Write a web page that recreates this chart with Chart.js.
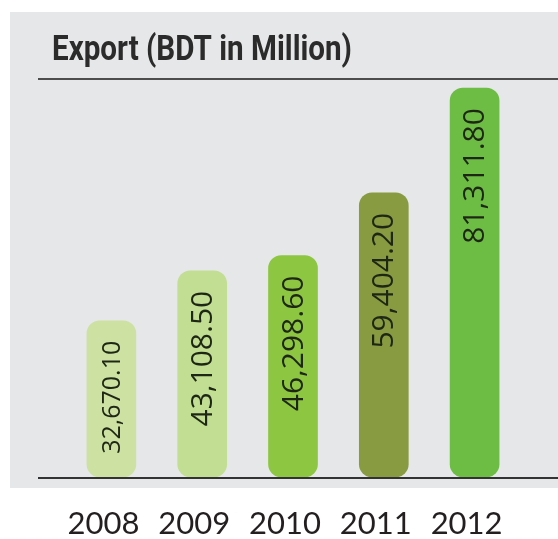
<!DOCTYPE html>
<html>
<head>
<meta charset="utf-8">
<script src="https://cdn.jsdelivr.net/npm/chart.js@4.4.1/dist/chart.umd.min.js"></script>
<style>
  html, body { margin: 0; padding: 0; background: #ffffff; overflow: hidden; }
  canvas { display: block; }
</style>
</head>
<body>
<canvas id="chart_export" width="558" height="539"></canvas>
<script>
// data
var chartTitle = 'Export (BDT in Million)';
var years = ['2008', '2009', '2010', '2011', '2012'];
var exportValues = [32670.10, 43108.50, 46298.60, 59404.20, 81311.80];
var valueLabels = ['32,670.10', '43,108.50', '46,298.60', '59,404.20', '81,311.80'];

// styles
var barColors = ['#cde2a2', '#c2de92', '#8dc641', '#889b41', '#6dbd45'];
var valueFontSizes = [25, 30, 30, 30, 30];

var panelPlugin = {
    id: 'panel',
    beforeDraw: (chart) => {
        const ctx = chart.ctx;
        ctx.save();
        ctx.fillStyle = '#ffffff';
        ctx.fillRect(0, 0, chart.width, chart.height);
        ctx.fillStyle = '#e6e7e9';
        ctx.fillRect(10, 12, chart.width - 10, 476);
        // title, squeezed to the condensed look of the original
        ctx.font = 'bold 35px Roboto, "Open Sans", sans-serif';
        ctx.fillStyle = '#2b2b2b';
        ctx.textBaseline = 'alphabetic';
        const w = ctx.measureText(chartTitle).width;
        ctx.translate(52, 60);
        ctx.scale(300 / w, 1);
        ctx.fillText(chartTitle, 0, 0);
        ctx.setTransform(1, 0, 0, 1, 0, 0);
        // rule under the title
        ctx.strokeStyle = '#4d4d4d';
        ctx.lineWidth = 2;
        ctx.beginPath();
        ctx.moveTo(38, 79);
        ctx.lineTo(chart.width, 79);
        ctx.stroke();
        ctx.restore();
    },
    afterDatasetsDraw: (chart) => {
        const ctx = chart.ctx;
        const y0 = chart.scales.y.getPixelForValue(0);
        ctx.save();
        // baseline
        ctx.strokeStyle = '#333333';
        ctx.lineWidth = 2;
        ctx.beginPath();
        ctx.moveTo(38, y0 + 1);
        ctx.lineTo(chart.width, y0 + 1);
        ctx.stroke();
        // value labels inside the bars
        const meta = chart.getDatasetMeta(0);
        meta.data.forEach((bar, i) => {
            ctx.save();
            ctx.translate(bar.x + 1, bar.y + 20);
            ctx.rotate(-Math.PI / 2);
            ctx.font = valueFontSizes[i] + 'px "Open Sans", sans-serif';
            ctx.fillStyle = '#1e2615';
            ctx.textAlign = 'right';
            ctx.textBaseline = 'middle';
            ctx.fillText(valueLabels[i], 0, 0);
            ctx.restore();
        });
        ctx.restore();
    }
};

var chart_export = new Chart(document.getElementById('chart_export'), {
    type: 'bar',
    data: {
        labels: years,
        datasets: [{
            label: chartTitle,
            data: exportValues,
            backgroundColor: barColors,
            borderWidth: 0,
            borderRadius: 13,
            borderSkipped: false,
            barThickness: 49
        }]
    },
    options: {
        animation: false,
        responsive: false,
        layout: {
            padding: { left: 52, right: 38, top: 80, bottom: 0 }
        },
        plugins: {
            legend: { display: false },
            tooltip: { enabled: false },
            title: { display: false }
        },
        scales: {
            x: {
                grid: { display: false, tickLength: 31 },
                border: { display: false },
                ticks: {
                    color: '#231f20',
                    font: { family: 'Lato, "Open Sans", sans-serif', size: 31, lineHeight: 1 },
                    padding: 0,
                    labelOffset: -8
                }
            },
            y: {
                min: 0,
                max: 83000,
                grid: { display: false },
                border: { display: false },
                ticks: { display: false },
                afterFit: (scale) => { scale.width = 14; }
            }
        }
    },
    plugins: [panelPlugin]
});
</script>
</body>
</html>
